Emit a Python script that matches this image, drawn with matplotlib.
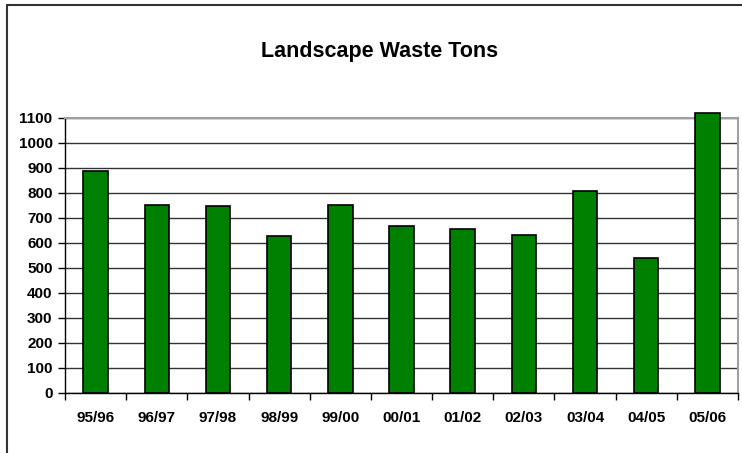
import matplotlib
matplotlib.use("Agg")
import matplotlib.pyplot as plt
from matplotlib.patches import Rectangle
import numpy as np

categories = ["95/96", "96/97", "97/98", "98/99", "99/00", "00/01",
              "01/02", "02/03", "03/04", "04/05", "05/06"]
tons = [888, 751, 745, 625, 751, 665, 656, 632, 808, 540, 1118]
yticks = list(range(0, 1101, 100))
title = "Landscape Waste Tons"

plt.rcParams['font.family'] = ['Liberation Sans', 'DejaVu Sans']

fig = plt.figure(figsize=(7.42, 4.53), dpi=100)
ax = fig.add_axes([65 / 742, 1 - 392.7 / 453, (738 - 65) / 742, (392.7 - 117.7) / 453])

x = np.arange(len(categories))
bars = ax.bar(x, tons, width=0.4, color='#008000', edgecolor='black', linewidth=1.2, zorder=3)
for b in bars:
    b.set_clip_on(False)

ax.set_xlim(-0.5, len(categories) - 0.5)
ax.set_ylim(0, 1100)
ax.set_yticks(yticks)
ax.set_yticklabels([str(v) for v in yticks], fontsize=11, fontweight='bold')
ax.set_xticks(x)
ax.set_xticklabels(categories, fontsize=11, fontweight='bold')
ax.set_xticks(np.arange(-0.5, len(categories), 1.0), minor=True)
ax.tick_params(axis='x', which='major', length=0, pad=13)
ax.tick_params(axis='x', which='minor', length=5, width=1, color='black', direction='out')
ax.tick_params(axis='y', which='major', length=5, width=1, color='black', direction='out', pad=4)

ax.yaxis.grid(True, color='#333333', linewidth=1.0, zorder=0)
ax.set_axisbelow(True)

ax.spines['left'].set_color('black')
ax.spines['bottom'].set_color('black')
ax.spines['left'].set_linewidth(1.0)
ax.spines['bottom'].set_linewidth(1.0)
ax.spines['top'].set_color('#a0a0a0')
ax.spines['right'].set_color('#a0a0a0')
ax.spines['top'].set_linewidth(1.5)
ax.spines['right'].set_linewidth(1.5)
ax.spines['bottom'].set_zorder(4)

fig.text(380 / 742, 1 - 52 / 453, title, ha='center', va='center',
         fontsize=15.5, fontweight='bold')

fig.patches.append(Rectangle((6.5 / 742, -0.1), 1.2, 1 - 4.5 / 453 + 0.1,
                             transform=fig.transFigure, fill=False,
                             edgecolor='#333333', linewidth=1.5))

fig.savefig("out.png", dpi=100)
